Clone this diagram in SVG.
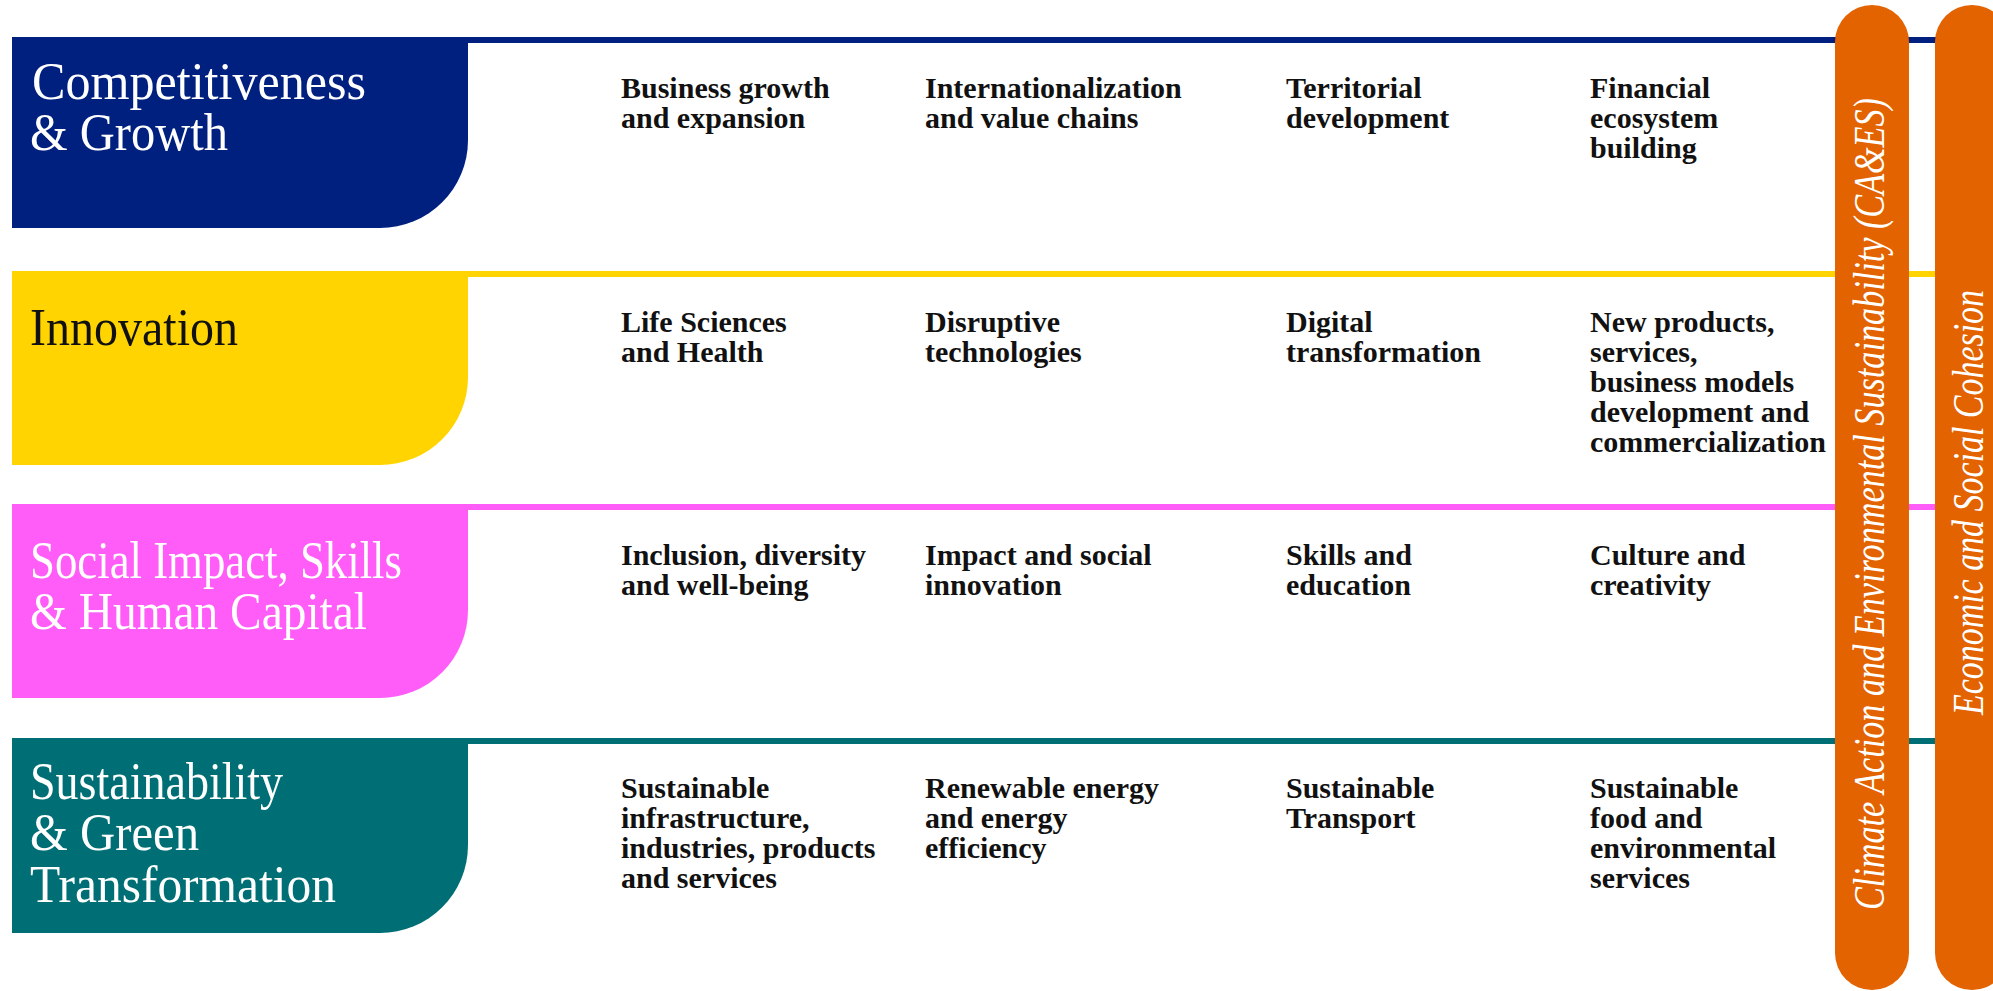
<svg xmlns="http://www.w3.org/2000/svg" width="1993" height="991" viewBox="0 0 1993 991">
<style>
.head{font-family:"Liberation Serif","Times New Roman",serif;font-size:52px;}
.item{font-family:"Liberation Serif","Times New Roman",serif;font-size:30px;font-weight:bold;fill:#111111;}
.vert{font-family:"Liberation Serif","Times New Roman",serif;font-size:44px;font-style:italic;fill:#ffffff;}
.pill{fill:#E36300;}
</style>
<rect x="0" y="0" width="1993" height="991" fill="#ffffff"/>

<g id="band-competitiveness">
  <rect x="12" y="37" width="1981" height="6" fill="#00207F"/>
  <path d="M12,37 H468 V140 A88,88 0 0 1 380,228 H12 Z" fill="#00207F"/>
  <text class="head" fill="#ffffff"><tspan x="32" y="99" textLength="334" lengthAdjust="spacingAndGlyphs">Competitiveness</tspan><tspan x="30" y="150" textLength="198" lengthAdjust="spacingAndGlyphs">&amp; Growth</tspan></text>
</g>

<g id="band-innovation">
  <rect x="12" y="271" width="1981" height="6" fill="#FFD400"/>
  <path d="M12,271 H468 V377 A88,88 0 0 1 380,465 H12 Z" fill="#FFD400"/>
  <text class="head" fill="#111111"><tspan x="30" y="345" textLength="208" lengthAdjust="spacingAndGlyphs">Innovation</tspan></text>
</g>

<g id="band-social">
  <rect x="12" y="504" width="1981" height="6" fill="#FF5CF8"/>
  <path d="M12,504 H468 V610 A88,88 0 0 1 380,698 H12 Z" fill="#FF5CF8"/>
  <text class="head" fill="#ffffff"><tspan x="30" y="578" textLength="372" lengthAdjust="spacingAndGlyphs">Social Impact, Skills</tspan><tspan x="30" y="629" textLength="337" lengthAdjust="spacingAndGlyphs">&amp; Human Capital</tspan></text>
</g>

<g id="band-sustainability">
  <rect x="12" y="738" width="1981" height="6" fill="#006F75"/>
  <path d="M12,738 H468 V845 A88,88 0 0 1 380,933 H12 Z" fill="#006F75"/>
  <text class="head" fill="#ffffff"><tspan x="30" y="799" textLength="253" lengthAdjust="spacingAndGlyphs">Sustainability</tspan><tspan x="30" y="850" textLength="169" lengthAdjust="spacingAndGlyphs">&amp; Green</tspan><tspan x="30" y="902" textLength="306" lengthAdjust="spacingAndGlyphs">Transformation</tspan></text>
</g>

<g id="connectors"></g>

<g id="item-business-growth"><text class="item"><tspan x="621" y="98">Business growth</tspan><tspan x="621" dy="30">and expansion</tspan></text></g>
<g id="item-internationalization"><text class="item"><tspan x="925" y="98">Internationalization</tspan><tspan x="925" dy="30">and value chains</tspan></text></g>
<g id="item-territorial"><text class="item"><tspan x="1286" y="98">Territorial</tspan><tspan x="1286" dy="30">development</tspan></text></g>
<g id="item-financial"><text class="item"><tspan x="1590" y="98">Financial</tspan><tspan x="1590" dy="30">ecosystem</tspan><tspan x="1590" dy="30">building</tspan></text></g>

<g id="item-life-sciences"><text class="item"><tspan x="621" y="332">Life Sciences</tspan><tspan x="621" dy="30">and Health</tspan></text></g>
<g id="item-disruptive"><text class="item"><tspan x="925" y="332">Disruptive</tspan><tspan x="925" dy="30">technologies</tspan></text></g>
<g id="item-digital"><text class="item"><tspan x="1286" y="332">Digital</tspan><tspan x="1286" dy="30">transformation</tspan></text></g>
<g id="item-new-products"><text class="item"><tspan x="1590" y="332">New products,</tspan><tspan x="1590" dy="30">services,</tspan><tspan x="1590" dy="30">business models</tspan><tspan x="1590" dy="30">development and</tspan><tspan x="1590" dy="30">commercialization</tspan></text></g>

<g id="item-inclusion"><text class="item"><tspan x="621" y="565">Inclusion, diversity</tspan><tspan x="621" dy="30">and well-being</tspan></text></g>
<g id="item-impact"><text class="item"><tspan x="925" y="565">Impact and social</tspan><tspan x="925" dy="30">innovation</tspan></text></g>
<g id="item-skills"><text class="item"><tspan x="1286" y="565">Skills and</tspan><tspan x="1286" dy="30">education</tspan></text></g>
<g id="item-culture"><text class="item"><tspan x="1590" y="565">Culture and</tspan><tspan x="1590" dy="30">creativity</tspan></text></g>

<g id="item-sust-infra"><text class="item"><tspan x="621" y="798">Sustainable</tspan><tspan x="621" dy="30">infrastructure,</tspan><tspan x="621" dy="30">industries, products</tspan><tspan x="621" dy="30">and services</tspan></text></g>
<g id="item-renewable"><text class="item"><tspan x="925" y="798">Renewable energy</tspan><tspan x="925" dy="30">and energy</tspan><tspan x="925" dy="30">efficiency</tspan></text></g>
<g id="item-transport"><text class="item"><tspan x="1286" y="798">Sustainable</tspan><tspan x="1286" dy="30">Transport</tspan></text></g>
<g id="item-food"><text class="item"><tspan x="1590" y="798">Sustainable</tspan><tspan x="1590" dy="30">food and</tspan><tspan x="1590" dy="30">environmental</tspan><tspan x="1590" dy="30">services</tspan></text></g>

<g id="pill-climate">
  <rect class="pill" x="1835" y="5" width="74" height="985" rx="37" ry="37"/>
  <text class="vert" transform="translate(1884,910) rotate(-90)" x="0" y="0" textLength="812" lengthAdjust="spacingAndGlyphs">Climate Action and Environmental Sustainability (CA&amp;ES)</text>
</g>
<g id="pill-cohesion">
  <rect class="pill" x="1935" y="5" width="74" height="985" rx="37" ry="37"/>
  <text class="vert" transform="translate(1983,715) rotate(-90)" x="0" y="0" textLength="425" lengthAdjust="spacingAndGlyphs">Economic and Social Cohesion</text>
</g>
</svg>
